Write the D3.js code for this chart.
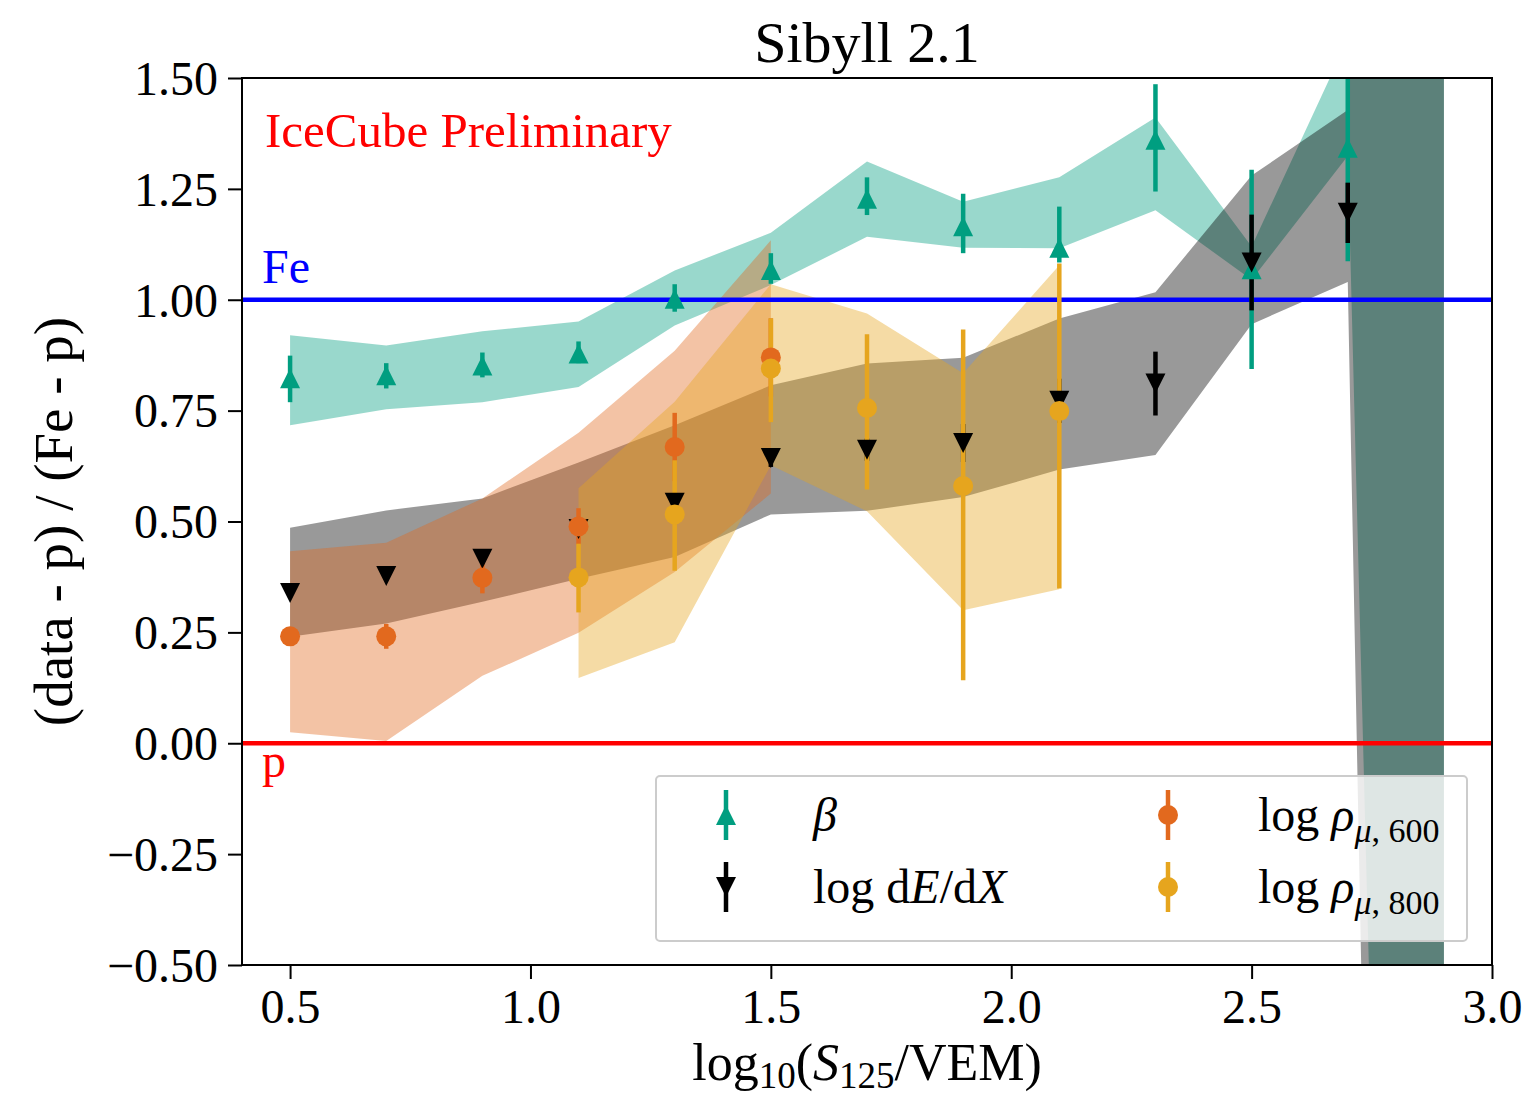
<!DOCTYPE html>
<html>
<head>
<meta charset="utf-8">
<script src="https://cdn.jsdelivr.net/npm/d3@7"></script>
<style>
	body { margin: 0; background: #fff; }
	svg text { font-family: "Liberation Serif", "Times New Roman", serif; }
</style>
</head>
<body>
<svg id="chart" width="1527" height="1096"></svg>
<script>
// bins of log10(S125/VEM)
var binX = [0.5, 0.7, 0.9, 1.1, 1.3, 1.5, 1.7, 1.9, 2.1, 2.3, 2.5, 2.7, 2.9];
var pointX = [0.5, 0.7, 0.9, 1.1, 1.3, 1.5, 1.7, 1.9, 2.1, 2.3, 2.5, 2.7];
var rho600X = [0.5, 0.7, 0.9, 1.1, 1.3, 1.5];
var rho800X = [1.1, 1.3, 1.5, 1.7, 1.9, 2.1];

// beta
var betaVal = [0.823, 0.830, 0.852, 0.879, 1.002, 1.067, 1.228, 1.166, 1.117, 1.361, 1.069, 1.343];
var betaErrDown = [0.054, 0.030, 0.027, 0.022, 0.029, 0.031, 0.037, 0.061, 0.033, 0.117, 0.225, 0.256];
var betaErrUp = [0.051, 0.027, 0.029, 0.027, 0.033, 0.038, 0.048, 0.073, 0.093, 0.125, 0.224, 0.260];
var betaBandLo = [0.717, 0.753, 0.769, 0.803, 0.942, 1.033, 1.142, 1.117, 1.116, 1.202, 1.045, 1.324, -7];
var betaBandHi = [0.920, 0.897, 0.929, 0.951, 1.066, 1.151, 1.312, 1.221, 1.276, 1.411, 1.120, 1.587, 10];

// log dE/dX
var dedxVal = [0.339, 0.377, 0.416, 0.483, 0.542, 0.643, 0.662, 0.677, 0.772, 0.811, 1.084, 1.196];
var dedxErr = [0.010, 0.010, 0.012, 0.015, 0.020, 0.020, 0.025, 0.043, 0.050, 0.072, 0.108, 0.068];
var dedxBandLo = [0.240, 0.270, 0.319, 0.371, 0.420, 0.516, 0.524, 0.555, 0.617, 0.650, 0.945, 1.040, -10];
var dedxBandHi = [0.486, 0.525, 0.552, 0.633, 0.717, 0.807, 0.856, 0.869, 0.958, 1.017, 1.280, 1.428, 10];

// log rho_mu,600
var rho600Val = [0.241, 0.241, 0.373, 0.489, 0.668, 0.870];
var rho600Err = [0.015, 0.028, 0.035, 0.041, 0.077, 0.088];
var rho600BandLo = [0.025, 0.005, 0.152, 0.249, 0.386, 0.563];
var rho600BandHi = [0.433, 0.452, 0.552, 0.700, 0.885, 1.134];

// log rho_mu,800
var rho800Val = [0.374, 0.516, 0.845, 0.756, 0.580, 0.749];
var rho800ErrDown = [0.079, 0.127, 0.121, 0.184, 0.438, 0.400];
var rho800ErrUp = [0.076, 0.122, 0.113, 0.166, 0.353, 0.333];
var rho800BandLo = [0.147, 0.228, 0.627, 0.523, 0.300, 0.347];
var rho800BandHi = [0.575, 0.770, 1.035, 0.969, 0.834, 1.078];

var xTicks = [0.5, 1.0, 1.5, 2.0, 2.5, 3.0];
var yTicks = [-0.5, -0.25, 0, 0.25, 0.5, 0.75, 1.0, 1.25, 1.5];

(function() {
	'use strict';

	var teal = '#009e80', orange = '#e2691e', yellow = '#e6a51e';

	var svg = d3.select('#chart');
	var margin = { top : 78, left : 242 };
	var width = 1250, height = 887;

	var x = d3.scaleLinear().domain([0.4, 3.0]).range([0, width]);
	var y = d3.scaleLinear().domain([-0.5, 1.5]).range([height, 0]);

	svg.append('defs').append('clipPath')
		.attr('id', 'plot-clip')
		.append('rect')
		.attr('width', width)
		.attr('height', height);

	var g = svg.append('g')
		.attr('transform', 'translate(' + margin.left + ',' + margin.top + ')');

	var plot = g.append('g').attr('clip-path', 'url(#plot-clip)');

	var toRows = function(xs, lo, hi) {
		return xs.map(function(v, i) {
			return { x : v, lo : lo[i], hi : hi[i] };
		});
	};

	var area = d3.area()
		.x(function(d) { return x(d.x); })
		.y0(function(d) { return y(d.lo); })
		.y1(function(d) { return y(d.hi); });

	// bands
	var bands = [
		{ rows : toRows(binX, betaBandLo, betaBandHi), color : teal },
		{ rows : toRows(binX, dedxBandLo, dedxBandHi), color : '#000' },
		{ rows : toRows(rho600X, rho600BandLo, rho600BandHi), color : orange },
		{ rows : toRows(rho800X, rho800BandLo, rho800BandHi), color : yellow }
	];
	plot.selectAll('.band')
		.data(bands)
		.enter().append('path')
		.attr('class', 'band')
		.attr('d', function(d) { return area(d.rows); })
		.attr('fill', function(d) { return d.color; })
		.attr('fill-opacity', 0.4);

	// Fe and p reference lines
	plot.append('line')
		.attr('x1', 0).attr('x2', width)
		.attr('y1', y(1)).attr('y2', y(1))
		.attr('stroke', '#0000ff').attr('stroke-width', 4.5);
	plot.append('line')
		.attr('x1', 0).attr('x2', width)
		.attr('y1', y(0)).attr('y2', y(0))
		.attr('stroke', '#ff0000').attr('stroke-width', 4.5);

	var series = [
		{ xs : pointX, val : betaVal, down : betaErrDown, up : betaErrUp, color : teal, marker : 'up' },
		{ xs : pointX, val : dedxVal, down : dedxErr, up : dedxErr, color : '#000', marker : 'down' },
		{ xs : rho600X, val : rho600Val, down : rho600Err, up : rho600Err, color : orange, marker : 'circle' },
		{ xs : rho800X, val : rho800Val, down : rho800ErrDown, up : rho800ErrUp, color : yellow, marker : 'circle' }
	];

	var markerPath = function(type) {
		if (type === 'up') return 'M0,-10L10,10L-10,10Z';
		if (type === 'down') return 'M0,10L10,-10L-10,-10Z';
		return 'M10,0A10,10 0 1,1 -10,0A10,10 0 1,1 10,0Z';
	};

	// error bars go below every marker
	series.forEach(function(s) {
		plot.append('g').selectAll('line')
			.data(s.val)
			.enter().append('line')
			.attr('x1', function(d, i) { return x(s.xs[i]); })
			.attr('x2', function(d, i) { return x(s.xs[i]); })
			.attr('y1', function(d, i) { return y(d - s.down[i]); })
			.attr('y2', function(d, i) { return y(d + s.up[i]); })
			.attr('stroke', s.color)
			.attr('stroke-width', 4.5);
	});
	series.forEach(function(s) {
		plot.append('g').selectAll('path')
			.data(s.val)
			.enter().append('path')
			.attr('transform', function(d, i) {
				return 'translate(' + x(s.xs[i]) + ',' + y(d) + ')';
			})
			.attr('d', markerPath(s.marker))
			.attr('fill', s.color);
	});

	// axes
	var xAxis = g.append('g')
		.attr('transform', 'translate(0,' + height + ')')
		.call(d3.axisBottom(x).tickValues(xTicks).tickFormat(d3.format('.1f')).tickSize(14).tickPadding(7));
	var yAxis = g.append('g')
		.call(d3.axisLeft(y).tickValues(yTicks).tickFormat(d3.format('.2f')).tickSize(14).tickPadding(10));
	[xAxis, yAxis].forEach(function(a) {
		a.select('.domain').remove();
		a.selectAll('.tick line').attr('stroke', '#000').attr('stroke-width', 2);
		a.selectAll('.tick text')
			.attr('fill', '#000')
			.style('font-size', '48px');
	});
	xAxis.selectAll('.tick text').attr('dy', '0.78em');
	yAxis.selectAll('.tick text').attr('dy', '0.34em');

	g.append('rect')
		.attr('width', width)
		.attr('height', height)
		.attr('fill', 'none')
		.attr('stroke', '#000')
		.attr('stroke-width', 2);

	// text annotations
	g.append('text')
		.attr('x', 23).attr('y', 69)
		.attr('fill', '#ff0000')
		.style('font-size', '49px')
		.text('IceCube Preliminary');
	g.append('text')
		.attr('x', 20).attr('y', y(1) - 17)
		.attr('fill', '#0000ff')
		.style('font-size', '48px')
		.text('Fe');
	g.append('text')
		.attr('x', 20).attr('y', y(0) + 34)
		.attr('fill', '#ff0000')
		.style('font-size', '48px')
		.text('p');

	svg.append('text')
		.attr('x', margin.left + width / 2).attr('y', 62)
		.attr('text-anchor', 'middle')
		.style('font-size', '58px')
		.text('Sibyll 2.1');

	var xl = svg.append('text')
		.attr('x', margin.left + width / 2).attr('y', 1080)
		.attr('text-anchor', 'middle')
		.style('font-size', '52px');
	xl.append('tspan').text('log');
	xl.append('tspan').attr('dy', 8).style('font-size', '37px').text('10');
	xl.append('tspan').attr('dy', -8).text('(');
	xl.append('tspan').style('font-style', 'italic').text('S');
	xl.append('tspan').attr('dy', 8).style('font-size', '37px').text('125');
	xl.append('tspan').attr('dy', -8).text('/VEM)');

	svg.append('text')
		.attr('transform', 'translate(72,' + (margin.top + height / 2) + ') rotate(-90)')
		.attr('text-anchor', 'middle')
		.style('font-size', '55px')
		.text('(data - p) / (Fe - p)');

	// legend
	var legend = svg.append('g').attr('transform', 'translate(656,776)');
	legend.append('rect')
		.attr('width', 811).attr('height', 165)
		.attr('rx', 4)
		.attr('fill', '#fff').attr('fill-opacity', 0.8)
		.attr('stroke', '#ccc').attr('stroke-width', 2);

	var items = [
		{ s : series[0], hx : 70, ty : 39, tx : 157, label : 'beta' },
		{ s : series[1], hx : 70, ty : 111, tx : 157, label : 'dedx' },
		{ s : series[2], hx : 512, ty : 39, tx : 602, label : '600' },
		{ s : series[3], hx : 512, ty : 111, tx : 602, label : '800' }
	];
	items.forEach(function(it) {
		legend.append('line')
			.attr('x1', it.hx).attr('x2', it.hx)
			.attr('y1', it.ty - 25).attr('y2', it.ty + 25)
			.attr('stroke', it.s.color).attr('stroke-width', 4.5);
		legend.append('path')
			.attr('transform', 'translate(' + it.hx + ',' + it.ty + ')')
			.attr('d', markerPath(it.s.marker))
			.attr('fill', it.s.color);
		var t = legend.append('text')
			.attr('x', it.tx).attr('y', it.ty + 16)
			.style('font-size', '48px');
		if (it.label === 'beta') {
			t.append('tspan').style('font-style', 'italic').text('β');
		} else if (it.label === 'dedx') {
			t.append('tspan').text('log d');
			t.append('tspan').style('font-style', 'italic').text('E');
			t.append('tspan').text('/d');
			t.append('tspan').style('font-style', 'italic').text('X');
		} else {
			t.append('tspan').text('log ');
			t.append('tspan').style('font-style', 'italic').text('ρ');
			t.append('tspan').attr('dy', 11).style('font-size', '34px').style('font-style', 'italic').text('μ');
			t.append('tspan').style('font-size', '34px').text(', ' + it.label);
		}
	});
})();
</script>
</body>
</html>
